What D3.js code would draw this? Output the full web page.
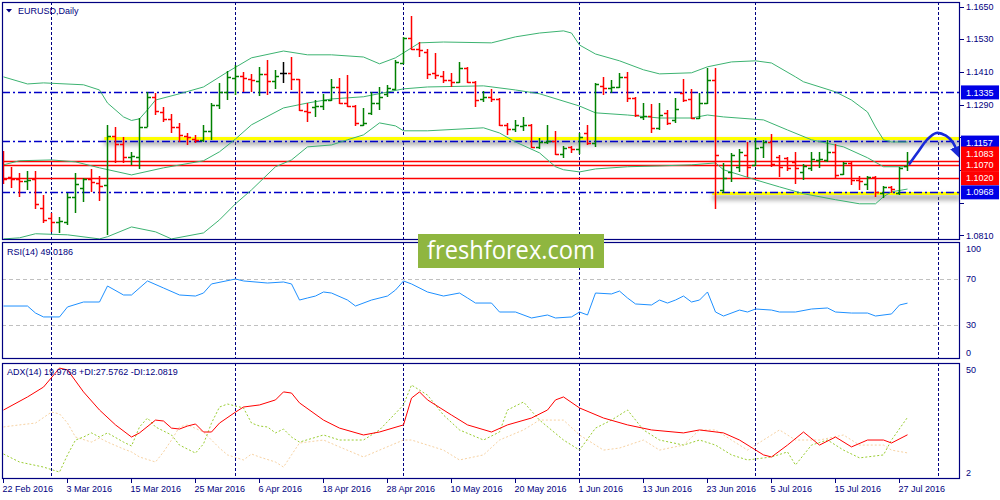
<!DOCTYPE html>
<html><head><meta charset="utf-8">
<script src="https://cdn.jsdelivr.net/npm/d3@7"></script>
<style>
html,body{margin:0;padding:0;background:#fff;}
svg{display:block;}
text{font-family:"Liberation Sans",Arial,sans-serif;font-size:9px;fill:#000080;}
</style></head><body>
<svg id="c" width="1000" height="500"></svg>
<script>
// ---------- DATA ----------
const opens = [1.1025,1.1025,1.1018,1.1010,1.1018,1.0911,1.0874,1.0860,1.0860,1.0952,
1.0985,1.1018,1.1003,1.0996,1.1175,1.1146,1.1098,1.1098,1.1208,1.1319,
1.1263,1.1238,1.1208,1.1175,1.1164,1.1161,1.1194,1.1289,1.1337,1.1388,
1.1396,1.1385,1.1377,1.1403,1.1377,1.1407,1.1407,1.1385,1.1267,1.1282,
1.1285,1.1307,1.1355,1.1296,1.1285,1.1216,1.1260,1.1296,1.1330,1.1348,
1.1443,1.1535,1.1495,1.1484,1.1407,1.1396,1.1381,1.1374,1.1425,1.1374,
1.1311,1.1319,1.1311,1.1216,1.1201,1.1212,1.1216,1.1135,1.1153,1.1157,
1.1109,1.1135,1.1128,1.1186,1.1150,1.1359,1.1352,1.1355,1.1392,1.1315,
1.1245,1.1249,1.1205,1.1260,1.1234,1.1333,1.1311,1.1241,1.1296,1.1381,
1.0977,1.1043,1.1062,1.1106,1.1069,1.1135,1.1153,1.1098,1.1095,1.1080,
1.1043,1.1058,1.1087,1.1087,1.1117,1.1036,1.1076,1.1014,1.0999,1.1025,
1.0966,1.0988,1.0966,1.1065];
const highs = [1.1120,1.1062,1.1040,1.1047,1.1047,1.0959,1.0893,1.0878,1.0966,1.1040,
1.1021,1.1054,1.1029,1.1216,1.1208,1.1172,1.1117,1.1241,1.1337,1.1333,
1.1282,1.1256,1.1223,1.1186,1.1179,1.1216,1.1296,1.1370,1.1414,1.1436,
1.1410,1.1403,1.1429,1.1454,1.1418,1.1447,1.1465,1.1385,1.1296,1.1307,
1.1330,1.1385,1.1388,1.1399,1.1289,1.1278,1.1337,1.1355,1.1363,1.1454,
1.1540,1.1616,1.1520,1.1495,1.1480,1.1414,1.1407,1.1447,1.1429,1.1377,
1.1341,1.1348,1.1315,1.1223,1.1234,1.1245,1.1219,1.1168,1.1216,1.1194,
1.1139,1.1139,1.1186,1.1216,1.1370,1.1392,1.1381,1.1407,1.1410,1.1319,
1.1296,1.1293,1.1296,1.1271,1.1315,1.1385,1.1348,1.1333,1.1425,1.1425,
1.1076,1.1113,1.1128,1.1153,1.1168,1.1161,1.1183,1.1106,1.1098,1.1117,
1.1073,1.1117,1.1117,1.1161,1.1146,1.1080,1.1080,1.1029,1.1029,1.1029,
1.0992,1.0992,1.1062,1.1117];
const lows = [1.0999,1.0985,1.0952,1.0977,1.0907,1.0856,1.0823,1.0819,1.0849,1.0893,
1.0933,1.0970,1.0937,1.0812,1.1076,1.1076,1.1069,1.1054,1.1208,1.1252,
1.1227,1.1186,1.1153,1.1142,1.1150,1.1153,1.1161,1.1274,1.1307,1.1326,
1.1337,1.1337,1.1322,1.1326,1.1348,1.1370,1.1344,1.1267,1.1227,1.1245,
1.1271,1.1304,1.1293,1.1282,1.1212,1.1212,1.1252,1.1271,1.1319,1.1344,
1.1440,1.1490,1.1465,1.1385,1.1385,1.1370,1.1355,1.1370,1.1370,1.1282,
1.1300,1.1300,1.1212,1.1179,1.1190,1.1194,1.1131,1.1128,1.1146,1.1106,
1.1095,1.1113,1.1109,1.1142,1.1135,1.1326,1.1333,1.1352,1.1300,1.1245,
1.1234,1.1186,1.1197,1.1216,1.1223,1.1300,1.1238,1.1238,1.1293,1.0907,
1.0966,1.1007,1.1043,1.1025,1.1065,1.1095,1.1062,1.1025,1.1047,1.0999,
1.1014,1.1047,1.1058,1.1080,1.1018,1.1032,1.0996,1.0977,1.0977,1.0952,
1.0948,1.0966,1.0959,1.1047];
const closes = [1.1018,1.1018,1.1010,1.1014,1.0926,1.0867,1.0860,1.0863,1.0952,1.0999,
1.1018,1.1007,1.0992,1.1175,1.1146,1.1098,1.1102,1.1208,1.1319,1.1267,
1.1238,1.1208,1.1179,1.1172,1.1161,1.1194,1.1289,1.1337,1.1392,1.1396,
1.1388,1.1381,1.1403,1.1377,1.1396,1.1407,1.1385,1.1271,1.1263,1.1285,
1.1307,1.1355,1.1296,1.1285,1.1223,1.1223,1.1296,1.1319,1.1352,1.1447,
1.1535,1.1495,1.1491,1.1403,1.1399,1.1381,1.1374,1.1425,1.1374,1.1307,
1.1319,1.1311,1.1216,1.1201,1.1216,1.1216,1.1135,1.1153,1.1157,1.1109,
1.1131,1.1128,1.1172,1.1150,1.1366,1.1352,1.1355,1.1392,1.1315,1.1252,
1.1249,1.1205,1.1252,1.1223,1.1274,1.1307,1.1241,1.1296,1.1381,1.1106,
1.1021,1.1106,1.1117,1.1062,1.1131,1.1153,1.1073,1.1062,1.1058,1.1058,
1.1065,1.1091,1.1091,1.1117,1.1032,1.1076,1.1014,1.1010,1.1025,1.0970,
1.0988,1.0981,1.1058,1.1080];

// Bollinger bands (bar index, price)
const bbUpper = [[0,1.1392],[3,1.1366],[5,1.1370],[10,1.1363],[12,1.1344],[13,1.1296],[15,1.1245],[16,1.1232],[17,1.1238],[18,1.1271],[19,1.1307],[22,1.1330],[25,1.1355],[28,1.1410],[31,1.1462],[35,1.1487],[38,1.1473],[41,1.1473],[45,1.1465],[47,1.1440],[49,1.1462],[52,1.1517],[55,1.1520],[61,1.1517],[64,1.1539],[67,1.1553],[70,1.1561],[71,1.1553],[72,1.1509],[74,1.1476],[77,1.1451],[80,1.1418],[82,1.1403],[86,1.1407],[88,1.1429],[91,1.1447],[94,1.1451],[96,1.1443],[99,1.1392],[100,1.1374],[104,1.1337],[106,1.1307],[108,1.1263],[109,1.1208],[110,1.1161],[111,1.1153],[113,1.1153]];
const bbMiddle = [[0,1.1069],[2,1.1084],[6,1.1087],[9,1.1080],[12,1.1058],[16,1.1032],[20,1.1058],[25,1.1084],[27,1.1117],[29,1.1164],[31,1.1216],[35,1.1278],[38,1.1296],[41,1.1311],[45,1.1319],[50,1.1348],[53,1.1355],[60,1.1359],[64,1.1344],[67,1.1330],[72,1.1285],[74,1.1260],[78,1.1252],[82,1.1241],[86,1.1241],[88,1.1252],[90,1.1245],[95,1.1234],[98,1.1197],[101,1.1161],[105,1.1135],[108,1.1095],[110,1.1062],[113,1.1062]];
const bbLower = [[0,1.0797],[2,1.0801],[4,1.0816],[8,1.0812],[12,1.0797],[13,1.0805],[16,1.0841],[19,1.0823],[21,1.0797],[25,1.0819],[27,1.0867],[29,1.0926],[31,1.0977],[34,1.1062],[36,1.1087],[38,1.1135],[41,1.1142],[43,1.1161],[45,1.1179],[47,1.1223],[49,1.1212],[50,1.1194],[53,1.1194],[60,1.1205],[62,1.1186],[64,1.1153],[67,1.1113],[69,1.1062],[70,1.1051],[72,1.1043],[74,1.1054],[78,1.1062],[82,1.1065],[86,1.1069],[89,1.1076],[90,1.1051],[94,1.1014],[97,1.0988],[100,1.0963],[104,1.0941],[107,1.0926],[109,1.0926],[110,1.0952],[111,1.0970],[113,1.0980]];

// RSI(14)
const rsi = [[0,46.5],[3,46.5],[4,40.4],[5,37.0],[7,37.0],[8,45.7],[10,50.0],[12,50.0],[13,63.9],[15,56.1],[16,56.1],[18,68.3],[20,62.2],[22,56.1],[24,55.2],[25,57.8],[26,65.7],[29,70.0],[30,68.3],[33,66.5],[35,67.4],[36,65.7],[37,51.7],[38,53.5],[39,55.2],[40,58.7],[41,57.8],[43,51.7],[44,46.5],[46,51.7],[48,55.2],[49,60.4],[50,68.3],[51,65.7],[53,58.7],[55,55.2],[57,57.8],[58,53.5],[59,49.1],[61,49.1],[62,41.3],[64,41.3],[66,36.1],[68,38.7],[69,36.1],[71,37.0],[72,41.3],[73,38.7],[74,57.8],[76,57.0],[77,59.5],[78,53.5],[79,48.3],[81,47.4],[82,51.7],[83,49.1],[84,51.7],[85,55.2],[86,50.0],[87,51.7],[88,58.7],[89,41.3],[90,37.8],[92,43.0],[93,41.3],[94,43.9],[96,43.0],[97,41.3],[99,41.3],[101,43.9],[103,44.8],[104,41.3],[106,40.4],[108,40.4],[109,37.8],[111,39.6],[112,47.4],[113,49.0]];
const rsiLevels = [70, 30];

// ADX(14)
const adx = [[0,30.8],[3,36.5],[5,40.8],[7,49.1],[8,48.3],[10,38.7],[12,30.8],[14,24.3],[16,19.0],[17,20.8],[19,26.4],[20,26.0],[21,22.9],[22,22.5],[23,23.8],[24,24.7],[25,21.2],[26,21.2],[27,25.1],[29,29.9],[30,32.1],[32,33.0],[34,35.2],[35,38.7],[36,38.2],[37,33.9],[40,26.4],[42,22.9],[45,19.9],[47,21.2],[50,24.3],[51,36.0],[52,38.7],[53,35.2],[56,28.6],[58,24.3],[61,21.2],[63,24.3],[66,27.3],[68,30.8],[69,35.2],[70,36.5],[72,31.7],[75,27.3],[78,24.3],[81,22.1],[85,20.8],[87,22.1],[90,20.8],[92,17.7],[95,11.2],[96,10.3],[98,15.5],[100,21.2],[102,15.5],[104,19.0],[106,14.7],[108,17.7],[110,17.7],[111,16.4],[113,19.98]];
const plusDI = [[0,11.6],[2,8.1],[5,5.9],[7,3.7],[8,11.2],[9,17.7],[10,19.0],[11,20.8],[12,19.0],[13,20.8],[15,16.8],[16,15.1],[17,23.4],[18,27.3],[19,23.4],[21,19.9],[22,15.5],[24,12.0],[25,16.0],[26,25.1],[27,32.1],[28,33.4],[30,31.7],[31,25.1],[32,23.8],[33,23.4],[34,20.8],[35,22.5],[36,19.0],[37,16.8],[40,19.9],[42,17.7],[45,17.7],[47,22.1],[50,33.0],[51,41.7],[53,37.3],[55,28.6],[57,22.1],[60,17.7],[62,21.2],[63,30.8],[65,34.3],[67,26.4],[70,17.7],[72,13.3],[74,22.9],[76,26.4],[78,30.8],[80,22.1],[82,17.7],[85,15.5],[87,17.7],[89,15.5],[91,11.2],[93,9.0],[96,10.3],[98,12.5],[99,6.8],[101,15.5],[103,17.7],[105,13.3],[107,9.9],[110,11.2],[111,17.7],[113,27.58]];
const minusDI = [[0,23.4],[2,24.3],[4,25.1],[6,29.9],[7,29.1],[8,25.1],[9,19.0],[11,16.8],[12,18.6],[13,16.8],[15,13.8],[16,12.5],[17,10.3],[19,8.1],[20,12.5],[21,17.7],[22,23.4],[23,24.3],[25,21.2],[26,17.7],[27,14.2],[28,11.2],[30,9.0],[31,11.6],[32,10.3],[34,8.1],[35,5.9],[36,11.2],[37,16.4],[40,17.7],[42,14.7],[45,10.3],[47,13.3],[50,17.7],[51,17.7],[55,13.3],[57,9.0],[60,11.2],[62,17.7],[65,22.1],[67,26.4],[70,26.4],[72,19.9],[75,13.3],[77,14.2],[80,17.7],[82,13.3],[85,15.5],[87,22.1],[89,22.1],[91,17.7],[93,13.3],[95,17.7],[97,22.1],[99,17.7],[102,17.7],[105,19.9],[107,15.5],[110,15.5],[111,13.3],[113,12.08]];

// axes & annotations
const priceTicks = [1.1650,1.1530,1.1410,1.1290,1.1170,1.1050,1.0930,1.0810];
const rsiTicks = [100,70,30,0];
const adxTicks = [50,2];
const dateLabels = ["22 Feb 2016","3 Mar 2016","15 Mar 2016","25 Mar 2016","6 Apr 2016","18 Apr 2016","28 Apr 2016","10 May 2016","20 May 2016","1 Jun 2016","13 Jun 2016","23 Jun 2016","5 Jul 2016","15 Jul 2016","27 Jul 2016"];
const dateBars = [0,8,16,24,32,40,48,56,64,72,80,88,96,104,112];
const gridBars = [6,29,50,72,94,116.9];
const blueLevels = [1.1335,1.1157,1.0968];
const redLevels = [1.1083,1.1070,1.1020];
const yellowLevels = [1.1166,1.0964];
const yellowFromBar = [12.6,88.6];
const arrowPath = [[113.25,1.1073],[114.4,1.1120],[115.4,1.1160],[116.6,1.1186],[117.8,1.1176],[118.7,1.1150],[119.2,1.1118]];

// ---------- DRAW ----------
const NAVY = "#000080";
const svg = d3.select("#c");
const L = 2, R = 960;
const P = {m:{t:2,b:240}, r:{t:242,b:359}, a:{t:363,b:479}};
const x = d3.scaleLinear().domain([0,113]).range([3.5,907.5]);
const y = d3.scaleLinear().domain([1.0793,1.1667]).range([240,2]);
const yR = d3.scaleLinear().domain([0,100]).range([359.5,244.5]);
const yA = d3.scaleLinear().domain([2,50]).range([476,366]);

svg.append("rect").attr("width",1000).attr("height",500).attr("fill","#fff");
const defs = svg.append("defs");
Object.entries(P).forEach(([k,p])=>{
  defs.append("clipPath").attr("id","clip-"+k).append("rect")
    .attr("x",L).attr("y",p.t).attr("width",R-L).attr("height",p.b-p.t);
});
const f = defs.append("filter").attr("id","blur").attr("x","-5%").attr("y","-200%").attr("width","110%").attr("height","500%");
f.append("feGaussianBlur").attr("stdDeviation",2);
const mk = defs.append("marker").attr("id","ah").attr("viewBox","0 0 10 10").attr("refX",4).attr("refY",5)
  .attr("markerWidth",4.5).attr("markerHeight",4.5).attr("orient","auto");
mk.append("path").attr("d","M0,0 L10,5 L0,10 z").attr("fill","#1a2ad8");

const gM = svg.append("g").attr("clip-path","url(#clip-m)");
const gR = svg.append("g").attr("clip-path","url(#clip-r)");
const gA = svg.append("g").attr("clip-path","url(#clip-a)");

// vertical grid
[[gM,P.m],[gR,P.r],[gA,P.a]].forEach(([g,p])=>{
  g.selectAll("line.grid").data(gridBars).enter().append("line")
   .attr("x1",d=>Math.floor(x(d))+0.5).attr("x2",d=>Math.floor(x(d))+0.5)
   .attr("y1",p.t).attr("y2",p.b).attr("stroke",NAVY).attr("stroke-width",1)
   .attr("stroke-dasharray","3,2");
});

// yellow zones with shadow
yellowLevels.forEach((v,k)=>{
  gM.append("rect").attr("x",x(yellowFromBar[k])).attr("y",y(v)+1).attr("width",R-x(yellowFromBar[k])).attr("height",6)
    .attr("fill","#777").attr("opacity",0.55).attr("filter","url(#blur)");
  gM.append("line").attr("x1",x(yellowFromBar[k])).attr("x2",R).attr("y1",y(v)).attr("y2",y(v))
    .attr("stroke","#ffff00").attr("stroke-width",3);
});
// blue dash-dot levels
gM.selectAll("line.bl").data(blueLevels).enter().append("line")
  .attr("x1",L).attr("x2",R).attr("y1",d=>Math.round(y(d))+0.5).attr("y2",d=>Math.round(y(d))+0.5)
  .attr("stroke","#0000c8").attr("stroke-width",1.3).attr("stroke-dasharray","8,3,2,3");
// red levels
gM.selectAll("line.rl").data(redLevels).enter().append("line")
  .attr("x1",L).attr("x2",R).attr("y1",d=>Math.round(y(d))+0.5).attr("y2",d=>Math.round(y(d))+0.5)
  .attr("stroke","#ff0000").attr("stroke-width",1.3);

// Bollinger
const bl = d3.line().x(d=>x(d[0])).y(d=>y(d[1]));
[bbUpper,bbMiddle,bbLower].forEach(b=>{
  gM.append("path").attr("d",bl(b)).attr("fill","none").attr("stroke","#3cb371").attr("stroke-width",1);
});

// OHLC bars
const gB = gM.append("g");
opens.forEach((o,i)=>{
  const c = closes[i];
  const col = c>o ? "#008000" : (c<o ? "#ff0000" : "#000000");
  const xi = x(i);
  gB.append("line").attr("x1",xi).attr("x2",xi).attr("y1",Math.round(y(highs[i]))).attr("y2",Math.round(y(lows[i])))
    .attr("stroke",col).attr("stroke-width",1.5);
  const yo = Math.round(y(o))+0.5, yc = Math.round(y(c))+0.5;
  gB.append("line").attr("x1",xi-3.5).attr("x2",xi).attr("y1",yo).attr("y2",yo).attr("stroke",col).attr("stroke-width",1.5);
  gB.append("line").attr("x1",xi).attr("x2",xi+3.5).attr("y1",yc).attr("y2",yc).attr("stroke",col).attr("stroke-width",1.5);
});

// arrow
gM.append("path").attr("d",d3.line().x(d=>x(d[0])).y(d=>y(d[1])).curve(d3.curveCatmullRom)(arrowPath))
  .attr("fill","none").attr("stroke","#1a2ad8").attr("stroke-width",2.6).attr("stroke-linecap","round")
  .attr("marker-end","url(#ah)");

// RSI
gR.selectAll("line.lv").data(rsiLevels).enter().append("line")
  .attr("x1",L).attr("x2",R).attr("y1",d=>Math.round(yR(d))+0.5).attr("y2",d=>Math.round(yR(d))+0.5)
  .attr("stroke","#c0c0c0").attr("stroke-dasharray","4,3");
gR.append("path").attr("d",d3.line().x(d=>x(d[0])).y(d=>yR(d[1]))(rsi)).attr("fill","none").attr("stroke","#1e90ff").attr("stroke-width",1);

// ADX
const al = d3.line().x(d=>x(d[0])).y(d=>yA(d[1]));
gA.append("path").attr("d",al(minusDI)).attr("fill","none").attr("stroke","#f7d2a2").attr("stroke-width",1).attr("stroke-dasharray","2,2");
gA.append("path").attr("d",al(plusDI)).attr("fill","none").attr("stroke","#9acd32").attr("stroke-width",1).attr("stroke-dasharray","2,2");
gA.append("path").attr("d",al(adx)).attr("fill","none").attr("stroke","#ff0000").attr("stroke-width",1);

// panel borders
Object.values(P).forEach(p=>{
  svg.append("rect").attr("x",L+0.5).attr("y",p.t+0.5).attr("width",R-L-1).attr("height",p.b-p.t-1)
    .attr("fill","none").attr("stroke",NAVY).attr("stroke-width",1.2);
});

// highlighted price labels (stacked when they collide)
const tags = blueLevels.map(v=>({v,c:"#0000e6"})).concat(redLevels.map(v=>({v,c:"#ff0000"})))
  .sort((a,b)=>a.v-b.v);
let prevY = 1e9;
tags.forEach(t=>{ let yy=y(t.v); if (prevY-yy<13) yy=prevY-11; t.yy=yy; prevY=yy; });

// right axis: price (tick labels hidden where a tag box covers them)
const gAx = svg.append("g");
priceTicks.forEach(v=>{
  const yy = y(v);
  gAx.append("line").attr("x1",R).attr("x2",R+4).attr("y1",Math.round(yy)+0.5).attr("y2",Math.round(yy)+0.5).attr("stroke",NAVY);
  const covered = tags.some(t=>Math.abs(t.yy-yy)<11);
  if (!covered) gAx.append("text").attr("x",R+6).attr("y",yy).attr("dy","0.35em").text(v.toFixed(4));
});
rsiTicks.forEach(v=>{
  const yy = Math.max(249, Math.min(353, yR(v)));
  gAx.append("text").attr("x",R+6).attr("y",yy).attr("dy","0.35em").text(v);
});
adxTicks.forEach(v=>{
  const yy = Math.max(370, Math.min(473, yA(v)));
  gAx.append("text").attr("x",R+6).attr("y",yy).attr("dy","0.35em").text(v);
});
tags.slice().reverse().forEach(t=>{
  gAx.append("rect").attr("x",R+1).attr("y",t.yy-7).attr("width",38).attr("height",14).attr("fill",t.c);
  gAx.append("text").attr("x",R+6).attr("y",t.yy).attr("dy","0.35em").style("fill","#fff").text(t.v.toFixed(4));
});

// bottom date axis
dateBars.forEach((b,k)=>{
  const xx = Math.floor(x(b))+0.5;
  gAx.append("line").attr("x1",xx).attr("x2",xx).attr("y1",P.a.b).attr("y2",P.a.b+4).attr("stroke",NAVY);
  gAx.append("text").attr("x",xx-1).attr("y",492).text(dateLabels[k]);
});

// titles
svg.append("path").attr("d","M6,9 L12,9 L9,12.5 Z").attr("fill",NAVY);
svg.append("text").attr("x",18).attr("y",14).text("EURUSD,Daily");
svg.append("text").attr("x",7).attr("y",255).text("RSI(14) 49.0186");
svg.append("text").attr("x",7).attr("y",375).text("ADX(14) 19.9768 +DI:27.5762 -DI:12.0819");

// watermark
svg.append("rect").attr("x",418).attr("y",234).attr("width",186).attr("height",34).attr("fill","#8fb640");
svg.append("text").attr("x",511).attr("y",259).attr("text-anchor","middle")
  .style("font-family","'Open Sans',sans-serif").style("font-size","26px").style("fill","#fff")
  .attr("textLength",168).attr("lengthAdjust","spacingAndGlyphs").text("freshforex.com");
</script>
</body></html>
